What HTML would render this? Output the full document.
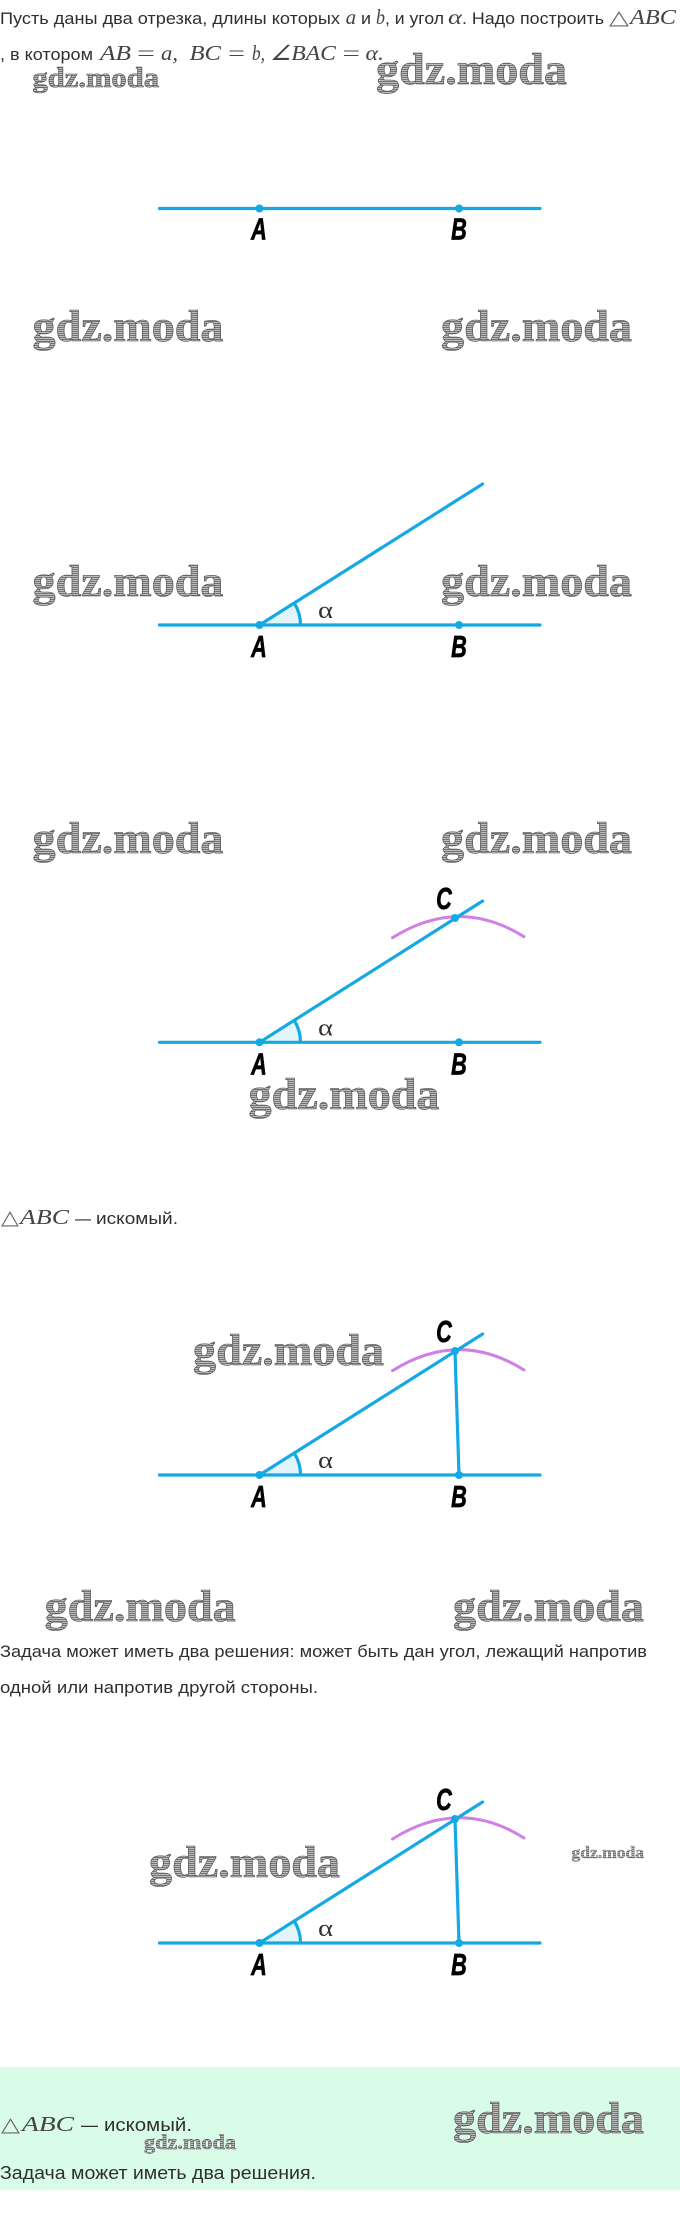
<!DOCTYPE html>
<html lang="ru">
<head>
<meta charset="utf-8">
<title>Построение треугольника</title>
<style>
html,body{margin:0;padding:0;background:#fff;width:680px;height:2225px;overflow:hidden}
svg{display:block}
.t{font-family:"Liberation Sans","DejaVu Sans",sans-serif;font-size:17px;fill:#2f2f2f}
.g{font-size:18px}
.m{font-family:"Liberation Serif",serif;font-style:italic;font-size:21px;fill:#444}
.u{font-family:"Liberation Serif",serif;font-size:21px;fill:#444}
.s{font-family:"DejaVu Sans",sans-serif;font-size:20px;fill:#666}
.w{font-family:"Liberation Serif",serif;font-weight:bold;fill:url(#h);stroke:#484848;stroke-width:.6}
.l{font-family:"Liberation Sans",sans-serif;font-weight:bold;font-style:italic;font-size:31px;fill:#000;stroke:#000;stroke-width:.7;text-anchor:middle}
.a{font-family:"Liberation Serif",serif;font-size:24px;fill:#333}
.b{stroke:#15a9e4;stroke-width:3.2;fill:none;stroke-linecap:round}
.p{stroke:#d07fe6;stroke-width:3;fill:none;stroke-linecap:round}
.d{fill:#15a9e4}
.f{fill:#e2f5fb}
</style>
</head>
<body>
<svg width="680" height="2225" viewBox="0 0 680 2225" xmlns="http://www.w3.org/2000/svg">
<defs>
<pattern id="h" width="2" height="2" patternUnits="userSpaceOnUse">
<rect width="2" height="2" fill="#bcbcbc"/>
<rect width="2" height="1" fill="#747474"/>
</pattern>
</defs>
<rect x="0" y="2067" width="680" height="123" fill="#d9fce9"/>

<!-- text, line 1 -->
<text class="t" x="0" y="24" textLength="340" lengthAdjust="spacingAndGlyphs">Пусть даны два отрезка, длины которых</text>
<text class="m" x="345.6" y="24" textLength="10.5" lengthAdjust="spacingAndGlyphs">a</text>
<text class="t" x="361" y="24" textLength="10" lengthAdjust="spacingAndGlyphs">и</text>
<text class="m" x="376" y="24" textLength="9" lengthAdjust="spacingAndGlyphs">b</text>
<text class="t" x="385" y="24" textLength="59" lengthAdjust="spacingAndGlyphs">, и угол</text>
<text class="m" x="448" y="24" textLength="14" lengthAdjust="spacingAndGlyphs">α</text>
<text class="t" x="462" y="24" textLength="142" lengthAdjust="spacingAndGlyphs">. Надо построить</text>
<text class="s" x="609" y="24" textLength="20" lengthAdjust="spacingAndGlyphs">△</text>
<text class="m" x="630" y="24" textLength="46" lengthAdjust="spacingAndGlyphs">ABC</text>

<!-- text, line 2 -->
<text class="t" x="0" y="60" textLength="93" lengthAdjust="spacingAndGlyphs">, в котором</text>
<text class="m" x="100" y="60" textLength="31" lengthAdjust="spacingAndGlyphs">AB</text>
<text class="u" x="137" y="60" textLength="18" lengthAdjust="spacingAndGlyphs">=</text>
<text class="m" x="161" y="60" textLength="17" lengthAdjust="spacingAndGlyphs">a,</text>
<text class="m" x="189.5" y="60" textLength="31.5" lengthAdjust="spacingAndGlyphs">BC</text>
<text class="u" x="228" y="60" textLength="17" lengthAdjust="spacingAndGlyphs">=</text>
<text class="m" x="252" y="60" textLength="13" lengthAdjust="spacingAndGlyphs">b,</text>
<text class="m" x="270" y="60" textLength="66" lengthAdjust="spacingAndGlyphs">∠BAC</text>
<text class="u" x="342.5" y="60" textLength="17.5" lengthAdjust="spacingAndGlyphs">=</text>
<text class="m" x="365.5" y="60" textLength="18.5" lengthAdjust="spacingAndGlyphs">α.</text>

<!-- diagram 1 -->
<path class="b" d="M159.5 208.5H540"/>
<circle class="d" cx="259.5" cy="208.5" r="4"/>
<circle class="d" cx="459" cy="208.5" r="4"/>
<text class="l" transform="translate(259 239.5) scale(.7 1)">A</text>
<text class="l" transform="translate(459 239.5) scale(.7 1)">B</text>

<!-- diagram 2 -->
<path class="f" d="M259.5 625L294.2 603A41 41 0 0 1 300.5 625Z"/>
<path class="b" d="M159.5 625H540M259.5 625L482.6 484M294.2 603A41 41 0 0 1 300.5 625"/>
<circle class="d" cx="259.5" cy="625" r="4"/>
<circle class="d" cx="459" cy="625" r="4"/>
<text class="a" x="318" y="618" textLength="15" lengthAdjust="spacingAndGlyphs">α</text>
<text class="l" transform="translate(259 657) scale(.7 1)">A</text>
<text class="l" transform="translate(459 657) scale(.7 1)">B</text>

<!-- diagram 3 -->
<path class="f" d="M259.5 1042.3L294.2 1020.3A41 41 0 0 1 300.5 1042.3Z"/>
<path class="p" d="M392.5 937.7Q459 896 524 936.7"/>
<path class="b" d="M159.5 1042.3H540M259.5 1042.3L482.6 901M294.2 1020.3A41 41 0 0 1 300.5 1042.3"/>
<circle class="d" cx="259.5" cy="1042.3" r="4"/>
<circle class="d" cx="459" cy="1042.3" r="4"/>
<circle class="d" cx="455" cy="918" r="4"/>
<text class="a" x="318" y="1035.5" textLength="15" lengthAdjust="spacingAndGlyphs">α</text>
<text class="l" transform="translate(259 1074.5) scale(.7 1)">A</text>
<text class="l" transform="translate(459 1074.5) scale(.7 1)">B</text>
<text class="l" transform="translate(444 909) scale(.7 1)">C</text>

<!-- text 3 -->
<text class="s" x="1" y="1224" textLength="18" lengthAdjust="spacingAndGlyphs">△</text>
<text class="m" x="20" y="1224" textLength="49" lengthAdjust="spacingAndGlyphs">ABC</text>
<text class="t" x="75" y="1224" textLength="16" lengthAdjust="spacingAndGlyphs">—</text>
<text class="t" x="96" y="1224" textLength="82" lengthAdjust="spacingAndGlyphs">искомый.</text>

<!-- diagram 4 -->
<path class="f" d="M259.5 1475L294.2 1453A41 41 0 0 1 300.5 1475Z"/>
<path class="p" d="M392.5 1370.7Q459 1329 524 1370"/>
<path class="b" d="M159.5 1475H540M259.5 1475L482.6 1334M294.2 1453A41 41 0 0 1 300.5 1475M455 1351L459 1475"/>
<circle class="d" cx="259.5" cy="1475" r="4"/>
<circle class="d" cx="459" cy="1475" r="4"/>
<circle class="d" cx="455" cy="1351" r="4"/>
<text class="a" x="318" y="1468" textLength="15" lengthAdjust="spacingAndGlyphs">α</text>
<text class="l" transform="translate(259 1507) scale(.7 1)">A</text>
<text class="l" transform="translate(459 1507) scale(.7 1)">B</text>
<text class="l" transform="translate(444 1342) scale(.7 1)">C</text>

<!-- text 4 -->
<text class="t" x="0" y="1657" textLength="647" lengthAdjust="spacingAndGlyphs">Задача может иметь два решения: может быть дан угол, лежащий напротив</text>
<text class="t" x="0" y="1693" textLength="318" lengthAdjust="spacingAndGlyphs">одной или напротив другой стороны.</text>

<!-- diagram 5 -->
<path class="f" d="M259.5 1943L294.2 1921A41 41 0 0 1 300.5 1943Z"/>
<path class="p" d="M392.5 1839Q459 1797 524 1838"/>
<path class="b" d="M159.5 1943H540M259.5 1943L482.6 1802M294.2 1921A41 41 0 0 1 300.5 1943M455 1819L459 1943"/>
<circle class="d" cx="259.5" cy="1943" r="4"/>
<circle class="d" cx="459" cy="1943" r="4"/>
<circle class="d" cx="455" cy="1819" r="4"/>
<text class="a" x="318" y="1936" textLength="15" lengthAdjust="spacingAndGlyphs">α</text>
<text class="l" transform="translate(259 1975) scale(.7 1)">A</text>
<text class="l" transform="translate(459 1975) scale(.7 1)">B</text>
<text class="l" transform="translate(444 1810) scale(.7 1)">C</text>

<!-- green block text -->
<text class="s" x="1" y="2131" textLength="19" lengthAdjust="spacingAndGlyphs">△</text>
<text class="m" x="22" y="2131" textLength="52" lengthAdjust="spacingAndGlyphs">ABC</text>
<text class="t g" x="81" y="2131" textLength="17" lengthAdjust="spacingAndGlyphs">—</text>
<text class="t g" x="104" y="2131" textLength="88" lengthAdjust="spacingAndGlyphs">искомый.</text>
<text class="t g" x="0" y="2179" textLength="316" lengthAdjust="spacingAndGlyphs">Задача может иметь два решения.</text>

<!-- watermarks -->
<g transform="translate(0 1)">
<text class="w" x="32.5" y="86" font-size="29" textLength="126.5" lengthAdjust="spacingAndGlyphs">gdz.moda</text>
<text class="w" x="376" y="83" font-size="44" textLength="191" lengthAdjust="spacingAndGlyphs">gdz.moda</text>
<text class="w" x="32.5" y="340" font-size="44" textLength="191" lengthAdjust="spacingAndGlyphs">gdz.moda</text>
<text class="w" x="441" y="340" font-size="44" textLength="191" lengthAdjust="spacingAndGlyphs">gdz.moda</text>
<text class="w" x="32.5" y="595" font-size="44" textLength="191" lengthAdjust="spacingAndGlyphs">gdz.moda</text>
<text class="w" x="441" y="595" font-size="44" textLength="191" lengthAdjust="spacingAndGlyphs">gdz.moda</text>
<text class="w" x="32.5" y="852" font-size="44" textLength="191" lengthAdjust="spacingAndGlyphs">gdz.moda</text>
<text class="w" x="441" y="852" font-size="44" textLength="191" lengthAdjust="spacingAndGlyphs">gdz.moda</text>
<text class="w" x="248.5" y="1108" font-size="44" textLength="191" lengthAdjust="spacingAndGlyphs">gdz.moda</text>
<text class="w" x="193" y="1364" font-size="44" textLength="191" lengthAdjust="spacingAndGlyphs">gdz.moda</text>
<text class="w" x="44.7" y="1620" font-size="44" textLength="191" lengthAdjust="spacingAndGlyphs">gdz.moda</text>
<text class="w" x="453" y="1620" font-size="44" textLength="191" lengthAdjust="spacingAndGlyphs">gdz.moda</text>
<text class="w" x="149" y="1876" font-size="44" textLength="191" lengthAdjust="spacingAndGlyphs">gdz.moda</text>
<text class="w" x="571.5" y="1857" font-size="16.5" textLength="72.5" lengthAdjust="spacingAndGlyphs" style="stroke-width:.3">gdz.moda</text>
<text class="w" x="453" y="2132" font-size="44" textLength="191" lengthAdjust="spacingAndGlyphs">gdz.moda</text>
<text class="w" x="144" y="2148" font-size="21" textLength="92" lengthAdjust="spacingAndGlyphs" style="stroke-width:.4">gdz.moda</text>
</g>
</svg>
</body>
</html>
